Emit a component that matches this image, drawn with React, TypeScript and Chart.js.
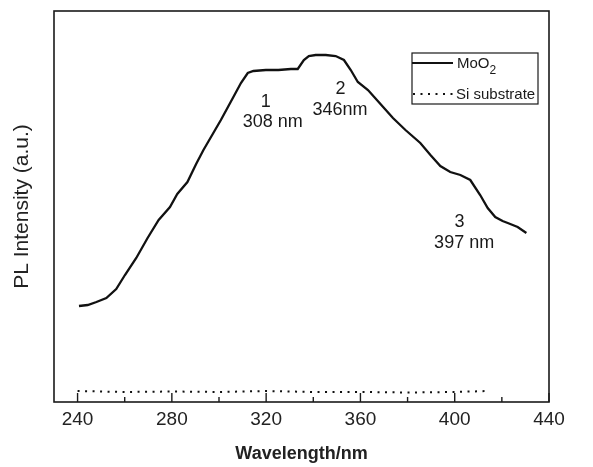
import React, { useEffect, useRef } from "react";
import { Chart, registerables } from "chart.js";

Chart.register(...registerables);

// MoO2 photoluminescence spectrum (wavelength nm, intensity a.u.)
const MOO2_NM = [240.6, 244.3, 248.0, 252.2, 256.4, 260.1, 264.9, 269.7, 274.4, 279.2, 282.3, 286.6, 290.3, 293.4, 297.1, 300.8, 306.1, 309.3, 312.2, 314.6, 319.9, 325.2, 330.5, 333.4, 336.0, 338.1, 341.0, 345.3, 349.5, 353.0, 355.9, 358.9, 363.2, 368.5, 373.8, 379.1, 385.4, 389.7, 393.9, 398.1, 402.4, 406.6, 410.8, 414.0, 417.2, 420.3, 422.5, 426.7, 430.4];
const MOO2_PL = [96, 97, 100, 104, 113, 127, 144, 164, 182, 195, 208, 220, 238, 252, 267, 282, 305, 319, 329, 331, 332, 332, 333, 333, 342, 346, 347, 347, 346, 342, 332, 320, 312, 298, 284, 272, 259, 247, 236, 230, 227, 222, 207, 194, 185, 181, 179, 175, 169];

// Si substrate reference (flat)
const SI_NM = [240, 260, 280, 300, 320, 340, 360, 380, 400, 414];
const SI_PL = [11, 10, 10.5, 10, 11, 10, 10, 9.5, 10, 11];

const X_MIN = 230;
const X_MAX = 440;
const Y_MIN = 0;
const Y_MAX = 391;
const X_TICKS = [240, 260, 280, 300, 320, 340, 360, 380, 400, 420, 440];
const X_LABELED = [240, 280, 320, 360, 400, 440];

const ANNOT_TEXT = ["1", "308 nm", "2", "346nm", "3", "397 nm"];
const ANNOT_NM = [319.8, 322.8, 351.5, 351.3, 402.0, 404.0];
const ANNOT_PL = [300, 280, 313, 292, 180, 159];

const FONT = '"Liberation Sans", Arial, Helvetica, sans-serif';
const INK = "#1a1a1a";

const decor = {
  id: "decor",
  afterDatasetsDraw(chart: any) {
    const { ctx, chartArea: a, scales } = chart;
    const x = scales.x;
    const y = scales.y;
    ctx.save();
    // frame
    ctx.strokeStyle = INK;
    ctx.lineWidth = 1.6;
    ctx.setLineDash([]);
    ctx.strokeRect(a.left, a.top, a.right - a.left, a.bottom - a.top);
    // inward ticks
    ctx.lineWidth = 1.4;
    X_TICKS.forEach((v) => {
      const px = x.getPixelForValue(v);
      const len = X_LABELED.includes(v) ? 9 : 5;
      ctx.beginPath();
      ctx.moveTo(px, a.bottom);
      ctx.lineTo(px, a.bottom - len);
      ctx.stroke();
    });
    // annotations
    ctx.fillStyle = INK;
    ctx.font = "18px " + FONT;
    ctx.textAlign = "center";
    ctx.textBaseline = "middle";
    ANNOT_TEXT.forEach((t, i) => {
      ctx.fillText(t, x.getPixelForValue(ANNOT_NM[i]), y.getPixelForValue(ANNOT_PL[i]));
    });
    // legend
    const lx = 412, ly = 53, lw = 126, lh = 51;
    ctx.lineWidth = 1.2;
    ctx.strokeRect(lx, ly, lw, lh);
    const ds = chart.data.datasets;
    // MoO2 entry
    ctx.strokeStyle = ds[0].borderColor;
    ctx.lineWidth = 2;
    ctx.beginPath();
    ctx.moveTo(lx, ly + 10);
    ctx.lineTo(lx + 41, ly + 10);
    ctx.stroke();
    ctx.textAlign = "left";
    ctx.font = "15px " + FONT;
    ctx.fillText("MoO", lx + 45, ly + 11);
    const w = ctx.measureText("MoO").width;
    ctx.font = "12px " + FONT;
    ctx.fillText("2", lx + 45 + w, ly + 18);
    // Si entry
    ctx.strokeStyle = ds[1].borderColor;
    ctx.lineWidth = 2;
    ctx.setLineDash(ds[1].borderDash);
    ctx.beginPath();
    ctx.moveTo(lx + 1, ly + 41);
    ctx.lineTo(lx + 42, ly + 41);
    ctx.stroke();
    ctx.setLineDash([]);
    ctx.font = "15px " + FONT;
    ctx.fillText("Si substrate", lx + 44, ly + 42);
    ctx.restore();
  },
};

export default function App() {
  const ref = useRef<HTMLCanvasElement | null>(null);
  useEffect(() => {
    document.body.style.margin = "0";
    const canvas = ref.current;
    if (!canvas) return;
    const chart = new Chart(canvas, {
      type: "line",
      data: {
        datasets: [
          {
            label: "MoO2",
            data: MOO2_NM.map((v, i) => ({ x: v, y: MOO2_PL[i] })),
            borderColor: "#111111",
            borderWidth: 2.3,
            pointRadius: 0,
            tension: 0,
            fill: false,
          },
          {
            label: "Si substrate",
            data: SI_NM.map((v, i) => ({ x: v, y: SI_PL[i] })),
            borderColor: "#111111",
            borderWidth: 2,
            borderDash: [2, 5.5],
            pointRadius: 0,
            tension: 0,
            fill: false,
          },
        ],
      },
      options: {
        responsive: false,
        animation: false,
        layout: { padding: { left: 0, top: 11, right: 44, bottom: 0 } },
        plugins: { legend: { display: false }, tooltip: { enabled: false } },
        scales: {
          x: {
            type: "linear",
            min: X_MIN,
            max: X_MAX,
            afterBuildTicks: (s: any) => {
              s.ticks = X_TICKS.map((v) => ({ value: v }));
            },
            afterFit: (s: any) => {
              s.height = 65;
            },
            grid: { display: false, drawTicks: false },
            border: { display: false },
            ticks: {
              autoSkip: false,
              maxRotation: 0,
              padding: 6,
              color: "#222",
              font: { family: FONT, size: 19 },
              callback: (v: any) => (X_LABELED.includes(Number(v)) ? String(v) : ""),
            },
            title: {
              display: true,
              text: "Wavelength/nm",
              color: "#222",
              font: { family: FONT, size: 18, weight: "bold" },
              padding: { top: 0, bottom: 2 },
            },
          },
          y: {
            type: "linear",
            min: Y_MIN,
            max: Y_MAX,
            afterFit: (s: any) => {
              s.width = 54;
            },
            grid: { display: false, drawTicks: false },
            border: { display: false },
            ticks: { display: false },
            title: {
              display: true,
              text: "PL Intensity (a.u.)",
              color: "#222",
              font: { family: FONT, size: 21 },
              padding: { top: 10, bottom: 0 },
            },
          },
        },
      },
      plugins: [decor],
    });
    return () => chart.destroy();
  }, []);
  return (
    <div style={{ position: "fixed", left: 0, top: 0, width: 593, height: 467, background: "#fff" }}>
      <canvas ref={ref} width={593} height={467} />
    </div>
  );
}
